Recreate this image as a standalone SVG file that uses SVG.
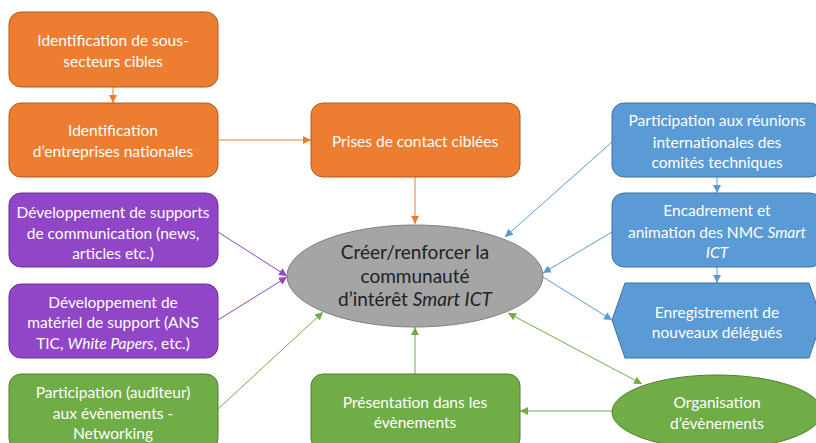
<svg xmlns="http://www.w3.org/2000/svg" width="816" height="443" viewBox="0 0 816 443">
<defs>
<style>
.o{fill:#ED7D31;stroke:#AE5A21;stroke-width:1}
.p{fill:#9146C8;stroke:#6A2F96;stroke-width:1}
.g{fill:#70AD47;stroke:#507E32;stroke-width:1}
.b{fill:#5B9BD5;stroke:#41719C;stroke-width:1}
.c{fill:#A5A5A5;stroke:#7F7F7F;stroke-width:1}
text{font-family:"Lato","Open Sans","Liberation Sans",sans-serif;font-size:15.5px;fill:#fff;text-anchor:middle}
.dk{fill:#222;font-size:19px}
.lo{stroke:#ED7D31;stroke-width:1;fill:none}
.lp{stroke:#9146C8;stroke-width:1;fill:none}
.lb{stroke:#5B9BD5;stroke-width:1;fill:none}
.lg{stroke:#70AD47;stroke-width:1;fill:none}
</style>
<marker id="ao" viewBox="0 0 10 10" refX="10" refY="5" markerWidth="8" markerHeight="8" markerUnits="userSpaceOnUse" orient="auto"><path d="M0,0L10,5L0,10z" fill="#ED7D31"/></marker>
<marker id="ap" viewBox="0 0 10 10" refX="10" refY="5" markerWidth="8" markerHeight="8" markerUnits="userSpaceOnUse" orient="auto"><path d="M0,0L10,5L0,10z" fill="#9146C8"/></marker>
<marker id="ab" viewBox="0 0 10 10" refX="10" refY="5" markerWidth="8" markerHeight="8" markerUnits="userSpaceOnUse" orient="auto"><path d="M0,0L10,5L0,10z" fill="#5B9BD5"/></marker>
<marker id="ag" viewBox="0 0 10 10" refX="10" refY="5" markerWidth="8" markerHeight="8" markerUnits="userSpaceOnUse" orient="auto-start-reverse"><path d="M0,0L10,5L0,10z" fill="#70AD47"/></marker>
</defs>
<g id="connectors">
<path class="lo" d="M113,87V103" marker-end="url(#ao)"/>
<path class="lo" d="M218,140H311" marker-end="url(#ao)"/>
<path class="lo" d="M415,177V224" marker-end="url(#ao)"/>
<path class="lp" d="M218,232L287,276" marker-end="url(#ap)"/>
<path class="lp" d="M218,320L287,277" marker-end="url(#ap)"/>
<path class="lg" d="M218,409L323,312" marker-end="url(#ag)"/>
<path class="lg" d="M415,374V327" marker-end="url(#ag)"/>
<path class="lg" d="M612,411H520" marker-end="url(#ag)"/>
<path class="lg" d="M508,313L642,384" marker-start="url(#ag)" marker-end="url(#ag)"/>
<path class="lb" d="M717,177V193" marker-end="url(#ab)"/>
<path class="lb" d="M717,267V283" marker-end="url(#ab)"/>
<path class="lb" d="M612,142L505,237" marker-end="url(#ab)"/>
<path class="lb" d="M612,232L543,273" marker-end="url(#ab)"/>
<path class="lb" d="M543,277L612,320" marker-end="url(#ab)"/>
</g>
<g id="n1"><rect class="o" x="9" y="12" width="209" height="75" rx="12"/><text x="113" y="46">Identification de sous-</text><text x="113" y="67">secteurs cibles</text></g>
<g id="n2"><rect class="o" x="9" y="103" width="209" height="74" rx="12"/><text x="113" y="136">Identification</text><text x="113" y="157">d’entreprises nationales</text></g>
<g id="n3"><rect class="o" x="311" y="103" width="209" height="74" rx="12"/><text x="415" y="147">Prises de contact ciblées</text></g>
<g id="n4"><rect class="p" x="9" y="193" width="209" height="74" rx="12"/><text x="113" y="218">Développement de supports</text><text x="113" y="239">de communication (news,</text><text x="113" y="259">articles etc.)</text></g>
<g id="n5"><rect class="p" x="9" y="284" width="209" height="74" rx="12"/><text x="113" y="308">Développement de</text><text x="113" y="328">matériel de support (ANS</text><text x="113" y="349">TIC, <tspan font-style="italic">White Papers</tspan>, etc.)</text></g>
<g id="n6"><rect class="g" x="9" y="374" width="209" height="76" rx="12"/><text x="113" y="398">Participation (auditeur)</text><text x="113" y="419">aux évènements -</text><text x="113" y="439">Networking</text></g>
<g id="center"><ellipse class="c" cx="415" cy="276" rx="128" ry="51"/><text class="dk" x="415" y="259">Créer/renforcer la</text><text class="dk" x="415" y="283">communauté</text><text class="dk" x="415" y="306">d’intérêt <tspan font-style="italic">Smart ICT</tspan></text></g>
<g id="n7"><rect class="g" x="311" y="374" width="209" height="76" rx="12"/><text x="415" y="408">Présentation dans les</text><text x="415" y="428">évènements</text></g>
<g id="n8"><ellipse class="g" cx="717" cy="412" rx="105" ry="37"/><text x="717" y="408">Organisation</text><text x="717" y="429">d’évènements</text></g>
<g id="n9"><rect class="b" x="612" y="103" width="210" height="74" rx="12"/><text x="717" y="126">Participation aux réunions</text><text x="717" y="148">internationales des</text><text x="717" y="168">comités techniques</text></g>
<g id="n10"><rect class="b" x="612" y="193" width="210" height="74" rx="12"/><text x="717" y="216">Encadrement et</text><text x="717" y="238">animation des NMC <tspan font-style="italic">Smart</tspan></text><text x="717" y="258" font-style="italic">ICT</text></g>
<g id="n11"><path class="b" d="M612,320L625,283H809L822,320L809,358H625Z"/><text x="717" y="318">Enregistrement de</text><text x="717" y="338">nouveaux délégués</text></g>
</svg>
